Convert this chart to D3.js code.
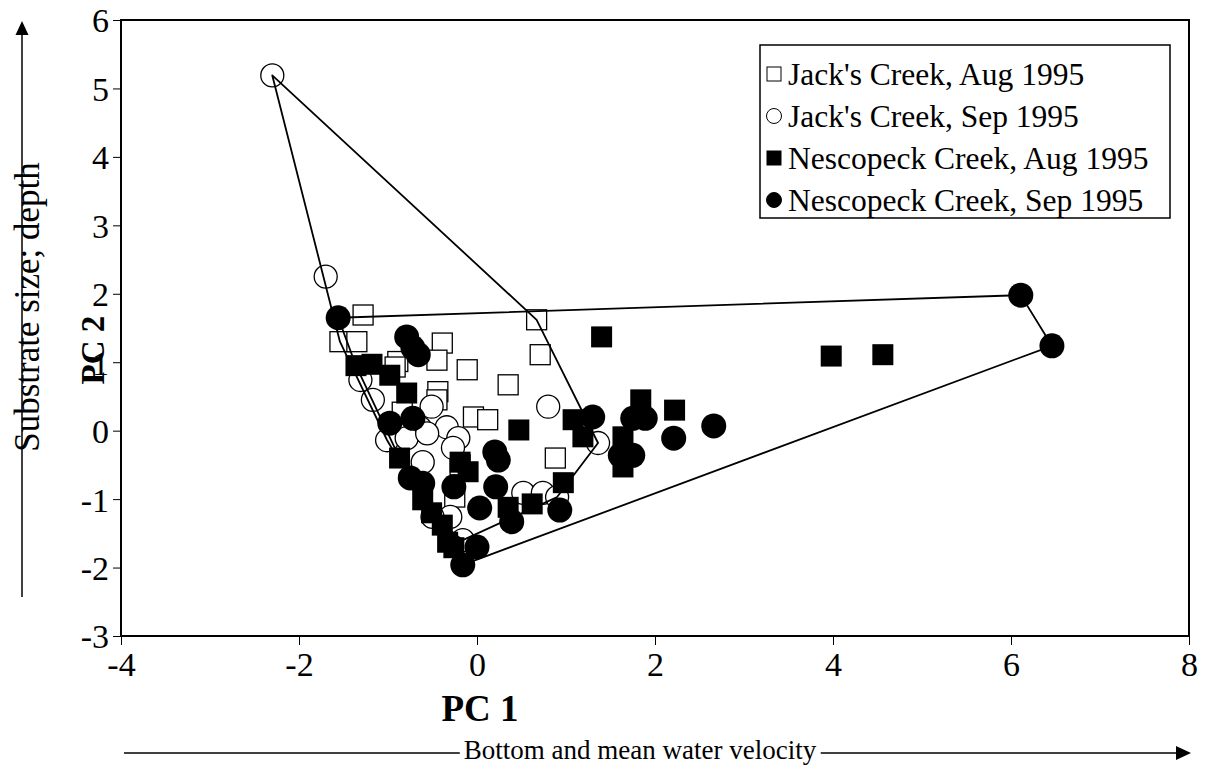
<!DOCTYPE html>
<html lang="en">
<head>
    <meta charset="UTF-8">
    <title>PCA habitat plot</title>
    <script src="https://d3js.org/d3.v7.min.js"></script>
    <style>
        body {
            margin: 0;
            padding: 0;
            background: #fff;
        }
        svg text {
            font-family: "Liberation Serif", "Times New Roman", serif;
            fill: #000;
        }
    </style>
</head>
<body>
    <div id="chart"></div>

    <script>
        // values: [PC1, PC2]
        const jackAug = [
            [-1.28, 1.69], [-1.54, 1.30], [-1.35, 1.30], [0.67, 1.62], [0.71, 1.11],
            [-0.39, 1.28], [-0.45, 1.03], [-0.89, 1.01], [-0.11, 0.89], [0.35, 0.67],
            [-0.44, 0.57], [-0.45, 0.45], [-0.04, 0.20], [0.12, 0.16], [0.88, -0.40],
            [-0.84, 0.27], [-0.19, -0.50], [-0.25, -0.97], [-0.92, 0.93]
        ];
        const jackSep = [
            [-2.30, 5.19], [-1.70, 2.25], [-1.31, 0.74], [-1.17, 0.45], [-0.51, 0.35],
            [0.80, 0.35], [-0.34, 0.05], [-0.21, -0.11], [-0.64, 0.04], [-1.01, -0.14],
            [-0.79, -0.11], [-0.56, -0.04], [-0.61, -0.46], [-0.27, -0.25], [0.52, -0.91],
            [0.74, -0.91], [1.36, -0.18], [0.90, -0.97], [-0.30, -1.26], [-0.50, -1.26],
            [-0.16, -1.60]
        ];
        const nesAug = [
            [-1.36, 0.95], [-1.18, 0.97], [-0.98, 0.81], [-0.79, 0.55], [-0.87, -0.40],
            [-0.19, -0.46], [-0.10, -0.60], [-0.61, -1.01], [-0.51, -1.20], [-0.39, -1.38],
            [-0.33, -1.63], [-0.26, -1.71], [0.35, -1.12], [0.62, -1.07], [0.97, -0.76],
            [0.47, 0.01], [1.08, 0.16], [1.19, -0.09], [1.40, 1.37], [1.64, -0.09],
            [1.64, -0.53], [1.84, 0.45], [2.22, 0.30], [3.98, 1.09], [4.56, 1.11]
        ];
        const nesSep = [
            [-1.56, 1.65], [-0.79, 1.37], [-0.72, 1.21], [-0.66, 1.11], [-0.98, 0.11],
            [-0.72, 0.18], [0.20, -0.31], [0.24, -0.43], [-0.75, -0.69], [-0.61, -0.77],
            [-0.26, -0.82], [0.21, -0.82], [0.03, -1.13], [0.39, -1.33], [0.93, -1.16],
            [0.00, -1.70], [-0.16, -1.96], [1.30, 0.20], [1.75, 0.18], [1.89, 0.18],
            [1.61, -0.36], [1.75, -0.36], [2.21, -0.11], [2.66, 0.07], [6.11, 1.98],
            [6.46, 1.24]
        ];
        const seriesNames = [
            "Jack's Creek, Aug 1995",
            "Jack's Creek, Sep 1995",
            "Nescopeck Creek, Aug 1995",
            "Nescopeck Creek, Sep 1995"
        ];
        const xTicks = [-4, -2, 0, 2, 4, 6, 8];
        const yTicks = [-3, -2, -1, 0, 1, 2, 3, 4, 5, 6];

        const width = 1212, height = 771;
        const plot = { left: 121, right: 1189, top: 20, bottom: 636 };

        const svg = d3.select("#chart").append("svg")
            .attr("width", width)
            .attr("height", height);

        const x = d3.scaleLinear().domain([-4, 8]).range([plot.left, plot.right]);
        const y = d3.scaleLinear().domain([-3, 6]).range([plot.bottom, plot.top]);

        // axes
        const xAxis = svg.append("g")
            .attr("transform", `translate(0,${plot.bottom})`)
            .call(d3.axisBottom(x).tickValues(xTicks).tickSize(9).tickPadding(7).tickFormat(d => String(d)));
        const yAxis = svg.append("g")
            .attr("transform", `translate(${plot.left},0)`)
            .call(d3.axisLeft(y).tickValues(yTicks).tickSize(8).tickPadding(4).tickFormat(d => String(d)));

        [xAxis, yAxis].forEach(g => {
            g.select(".domain").remove();
            g.selectAll(".tick line").attr("stroke", "#000").attr("stroke-width", 1);
            g.selectAll(".tick text")
                .attr("font-family", '"Liberation Serif", serif')
                .attr("font-size", 34);
        });
        xAxis.selectAll(".tick text").attr("dy", "0.71em");
        yAxis.selectAll(".tick text").attr("dy", "0.35em");

        // plot frame
        svg.append("rect")
            .attr("x", plot.left)
            .attr("y", plot.top)
            .attr("width", plot.right - plot.left)
            .attr("height", plot.bottom - plot.top)
            .attr("fill", "none")
            .attr("stroke", "#000")
            .attr("stroke-width", 2);

        // markers
        const sq = 20, sqFilled = 21, rOpen = 11.5, rFilled = 12.5;
        const marks = svg.append("g");

        marks.selectAll(".ja").data(jackAug).enter().append("rect")
            .attr("x", d => x(d[0]) - sq / 2)
            .attr("y", d => y(d[1]) - sq / 2)
            .attr("width", sq).attr("height", sq)
            .attr("fill", "#fff").attr("stroke", "#000").attr("stroke-width", 1.3);

        marks.selectAll(".js").data(jackSep).enter().append("circle")
            .attr("cx", d => x(d[0]))
            .attr("cy", d => y(d[1]))
            .attr("r", rOpen)
            .attr("fill", "#fff").attr("stroke", "#000").attr("stroke-width", 1.3);

        marks.selectAll(".na").data(nesAug).enter().append("rect")
            .attr("x", d => x(d[0]) - sqFilled / 2)
            .attr("y", d => y(d[1]) - sqFilled / 2)
            .attr("width", sqFilled).attr("height", sqFilled)
            .attr("fill", "#000");

        marks.selectAll(".ns").data(nesSep).enter().append("circle")
            .attr("cx", d => x(d[0]))
            .attr("cy", d => y(d[1]))
            .attr("r", rFilled)
            .attr("fill", "#000");

        // convex hulls around each creek
        const hulls = [
            d3.polygonHull(jackAug.concat(jackSep)),
            d3.polygonHull(nesAug.concat(nesSep))
        ];
        svg.append("g").selectAll("path").data(hulls).enter().append("path")
            .attr("d", h => "M" + h.map(p => [x(p[0]), y(p[1])].join(",")).join("L") + "Z")
            .attr("fill", "none")
            .attr("stroke", "#000")
            .attr("stroke-width", 1.8)
            .attr("stroke-linejoin", "round");

        // legend
        const lg = { x: 760, y: 45, w: 410, h: 173 };
        svg.append("rect")
            .attr("x", lg.x).attr("y", lg.y)
            .attr("width", lg.w).attr("height", lg.h)
            .attr("fill", "#fff")
            .attr("stroke", "#000")
            .attr("stroke-width", 1.5);

        const legendRow = d3.scaleLinear().domain([0, 3]).range([74, 200]);
        const items = svg.append("g").selectAll("g").data(seriesNames).enter().append("g")
            .attr("transform", (d, i) => `translate(${lg.x + 14},${legendRow(i)})`);

        items.each(function (d, i) {
            const g = d3.select(this);
            if (i === 0 || i === 2) {
                g.append("rect")
                    .attr("x", -7).attr("y", -7).attr("width", 14).attr("height", 14)
                    .attr("fill", i === 0 ? "#fff" : "#000")
                    .attr("stroke", "#000").attr("stroke-width", 1);
            } else {
                g.append("circle")
                    .attr("r", 7.5)
                    .attr("fill", i === 1 ? "#fff" : "#000")
                    .attr("stroke", "#000").attr("stroke-width", 1);
            }
            g.append("text")
                .attr("x", 14)
                .attr("dy", "0.35em")
                .style("font-size", "31.5px")
                .text(d);
        });

        // axis titles
        svg.append("text")
            .attr("x", 480).attr("y", 708)
            .attr("text-anchor", "middle")
            .attr("dy", "0.35em")
            .style("font-size", "37px")
            .style("font-weight", "bold")
            .text("PC 1");

        svg.append("text")
            .attr("transform", "translate(92,350) rotate(-90)")
            .attr("text-anchor", "middle")
            .attr("dy", "0.35em")
            .style("font-size", "33px")
            .style("font-weight", "bold")
            .text("PC 2");

        // direction arrows with their captions
        const arrows = svg.append("g");
        arrows.append("line")
            .attr("x1", 124).attr("x2", 1178)
            .attr("y1", 753).attr("y2", 753)
            .attr("stroke", "#000").attr("stroke-width", 1.5);
        arrows.append("path")
            .attr("d", "M1176,746 L1191,753 L1176,760 Z")
            .attr("fill", "#000");
        const xCap = arrows.append("text")
            .attr("x", 640).attr("y", 750)
            .attr("text-anchor", "middle")
            .attr("dy", "0.35em")
            .style("font-size", "27px")
            .text("Bottom and mean water velocity");
        const xb = xCap.node().getBBox();
        arrows.insert("rect", "text")
            .attr("x", xb.x - 4).attr("y", 745)
            .attr("width", xb.width + 8).attr("height", 16)
            .attr("fill", "#fff");

        arrows.append("line")
            .attr("x1", 22).attr("x2", 22)
            .attr("y1", 597).attr("y2", 32)
            .attr("stroke", "#000").attr("stroke-width", 1.5);
        arrows.append("path")
            .attr("d", "M15.5,35 L22,21 L28.5,35 Z")
            .attr("fill", "#000");
        const yCap = arrows.append("text")
            .attr("transform", "translate(27,307) rotate(-90)")
            .attr("text-anchor", "middle")
            .attr("dy", "0.35em")
            .style("font-size", "35px")
            .text("Substrate size; depth");
        const yb = yCap.node().getBBox();
        arrows.insert("rect", "text")
            .attr("x", 14).attr("y", 307 - yb.width / 2 - 5)
            .attr("width", 16).attr("height", yb.width + 10)
            .attr("fill", "#fff");
    </script>
</body>
</html>
